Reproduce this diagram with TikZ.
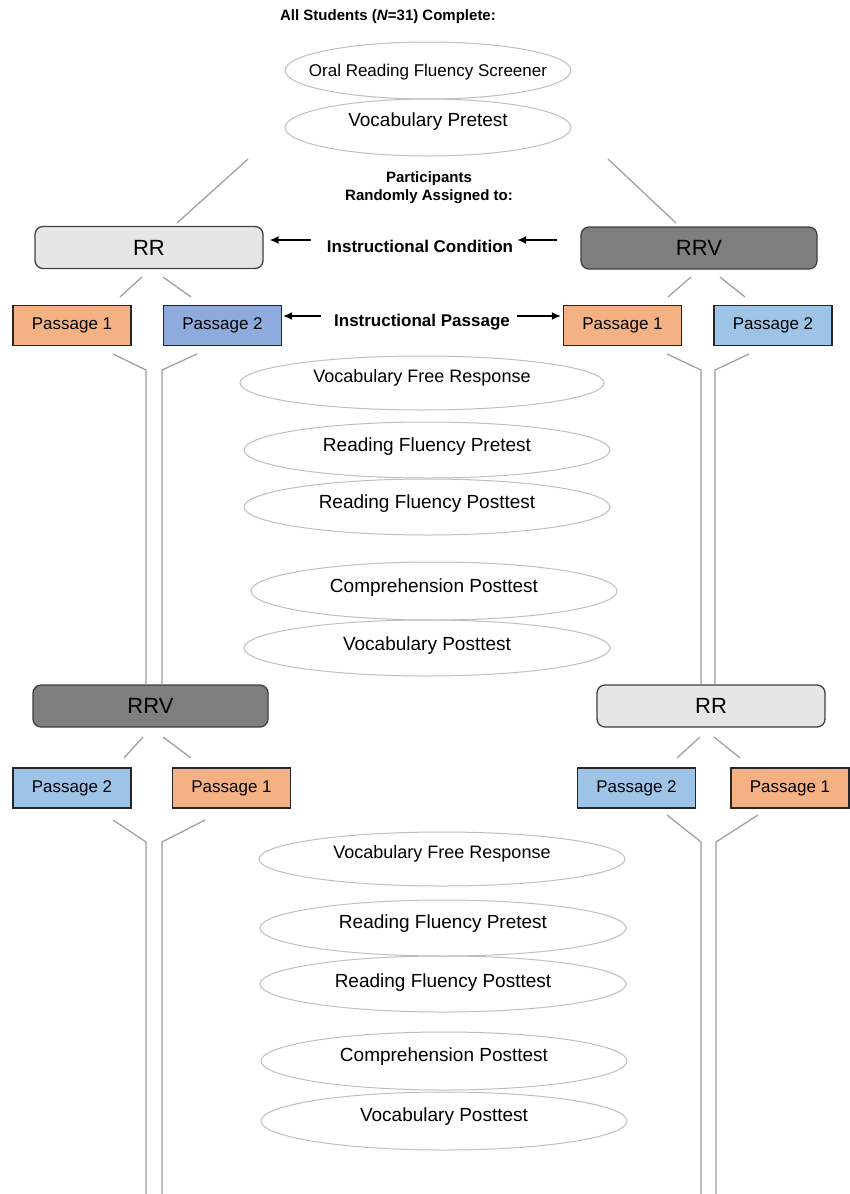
\documentclass[tikz,border=0pt]{standalone}
\usepackage{fontspec}
\setmainfont{Liberation Sans}
\usetikzlibrary{arrows.meta}

\definecolor{fig-color-p1}{RGB}{244, 177, 131}
\definecolor{fig-color-p2}{RGB}{143, 170, 220}
\definecolor{fig-color-p2-light}{RGB}{157, 195, 230}
\definecolor{fig-color-rr}{RGB}{231, 230, 230}
\definecolor{fig-color-rrv}{RGB}{127, 127, 127}
\definecolor{fig-color-line}{RGB}{155, 155, 155}
\definecolor{fig-color-oval}{RGB}{190, 190, 190}

\tikzset{
  condbox/.style={draw=black!75, line width=1.3pt, rounded corners=8pt,
    minimum width=228pt, minimum height=42pt, inner sep=0pt,
    font=\fontsize{22}{24}\selectfont},
  passbox/.style={draw=black!85, line width=1.2pt, minimum width=118pt,
    minimum height=40pt, inner sep=0pt, font=\fontsize{17}{19}\selectfont},
  oval/.style={draw=fig-color-oval, line width=1pt},
  ovaltext/.style={inner sep=0pt, font=\fontsize{19}{21}\selectfont},
  lbl/.style={inner sep=0pt, font=\bfseries\fontsize{17}{19}\selectfont},
  head/.style={inner sep=0pt, align=center, font=\bfseries\fontsize{15}{18}\selectfont},
  link/.style={draw=fig-color-line, line width=1.2pt},
  arr/.style={line width=1.6pt, -{Latex[length=9pt,width=8pt]}}
}

\begin{document}
\begin{tikzpicture}[x=1pt,y=-1pt]
    \useasboundingbox (0,0) rectangle (850,1194);

    \node[head] (all) at (388,17) {All Students (\textit{N}=31) Complete:};

    \draw[oval] (428,70.5) ellipse (143 and 28.5);
    \node[ovaltext, font=\fontsize{17}{19}\selectfont] (orf) at (428,72) {Oral Reading Fluency Screener};
    \draw[oval] (428,127.5) ellipse (143 and 28.5);
    \node[ovaltext] (vpre) at (428,122) {Vocabulary Pretest};

    \node[head] (assign) at (429,188) {Participants\\Randomly Assigned to:};

    \node[condbox, fill=fig-color-rr] (rr1) at (149,247.5) {RR};
    \node[condbox, fill=fig-color-rrv, minimum width=236pt] (rrv1) at (699,248) {RRV};

    \coordinate (t1) at (248,159);
    \coordinate (t2) at (177,223);
    \coordinate (t3) at (608,159);
    \coordinate (t4) at (676,223);
    \draw[link] (t1) -- (t2);
    \draw[link] (t3) -- (t4);

    \node[lbl] (icond) at (420,246) {Instructional Condition};
    \draw[arr, shorten <=16pt, shorten >=6pt] ([yshift=6pt]icond.west) -- ([yshift=7.5pt]rr1.east);
    \draw[arr, shorten <=23pt, shorten >=4pt] ([yshift=8pt]rrv1.west) -- ([yshift=6pt]icond.east);

    \node[passbox, fill=fig-color-p1] (p11) at (72,325.5) {Passage 1};
    \node[passbox, fill=fig-color-p2] (p12) at (222.5,325.5) {Passage 2};
    \node[passbox, fill=fig-color-p1] (p21) at (622.5,325.5) {Passage 1};
    \node[passbox, fill=fig-color-p2-light] (p22) at (773,325.5) {Passage 2};

    \node[lbl] (ipass) at (422,322) {Instructional Passage};
    \draw[arr, shorten <=13pt, shorten >=1pt] ([yshift=6pt]ipass.west) -- ([yshift=9.5pt]p12.east);
    \draw[arr, shorten <=7pt, shorten >=2pt] ([yshift=6pt]ipass.east) -- ([yshift=9.5pt]p21.west);

    \coordinate (r1) at (142,277);
    \coordinate (r2) at (120,297);
    \coordinate (r3) at (163,277);
    \coordinate (r4) at (191,297);
    \coordinate (r5) at (691,277);
    \coordinate (r6) at (668,297);
    \coordinate (r7) at (720,277);
    \coordinate (r8) at (745,297);
    \draw[link] (r1) -- (r2);
    \draw[link] (r3) -- (r4);
    \draw[link] (r5) -- (r6);
    \draw[link] (r7) -- (r8);

    \coordinate (s1) at (113,354);
    \coordinate (s2) at (146,370);
    \coordinate (s3) at (197,354);
    \coordinate (s4) at (162,370);
    \coordinate (s5) at (667,354);
    \coordinate (s6) at (701,370);
    \coordinate (s7) at (749,354);
    \coordinate (s8) at (715,370);

    \draw[oval] (422,383) ellipse (182 and 27);
    \node[ovaltext, font=\fontsize{18}{20}\selectfont] (vfr1) at (422,378) {Vocabulary Free Response};
    \draw[oval] (427,450) ellipse (183 and 28);
    \node[ovaltext] (rfpre1) at (427,447) {Reading Fluency Pretest};
    \draw[oval] (427,507) ellipse (183 and 28);
    \node[ovaltext] (rfpost1) at (427,504) {Reading Fluency Posttest};
    \draw[oval] (434,591) ellipse (183 and 29);
    \node[ovaltext] (comp1) at (434,588) {Comprehension Posttest};
    \draw[oval] (427,648) ellipse (183 and 28);
    \node[ovaltext] (vpost1) at (427,646) {Vocabulary Posttest};

    \node[condbox, fill=fig-color-rrv, minimum width=235pt] (rrv2) at (150.5,706) {RRV};
    \node[condbox, fill=fig-color-rr] (rr2) at (711,706) {RR};

    \draw[link] (s1) -- (s2) -- (s2 |- rrv2.north);
    \draw[link] (s3) -- (s4) -- (s4 |- rrv2.north);
    \draw[link] (s5) -- (s6) -- (s6 |- rr2.north);
    \draw[link] (s7) -- (s8) -- (s8 |- rr2.north);

    \coordinate (u1) at (143,737);
    \coordinate (u2) at (124,758);
    \coordinate (u3) at (163,737);
    \coordinate (u4) at (191,758);
    \coordinate (u5) at (700,737);
    \coordinate (u6) at (677,758);
    \coordinate (u7) at (714,737);
    \coordinate (u8) at (740,758);
    \draw[link] (u1) -- (u2);
    \draw[link] (u3) -- (u4);
    \draw[link] (u5) -- (u6);
    \draw[link] (u7) -- (u8);

    \node[passbox, fill=fig-color-p2-light] (q12) at (72,788) {Passage 2};
    \node[passbox, fill=fig-color-p1] (q11) at (231.5,788) {Passage 1};
    \node[passbox, fill=fig-color-p2-light] (q22) at (636.5,788) {Passage 2};
    \node[passbox, fill=fig-color-p1] (q21) at (790,788) {Passage 1};

    \coordinate (v1) at (113,820);
    \coordinate (v2) at (146,842);
    \coordinate (v3) at (205,820);
    \coordinate (v4) at (162,842);
    \coordinate (v5) at (667,815);
    \coordinate (v6) at (701,842);
    \coordinate (v7) at (758,815);
    \coordinate (v8) at (716,842);
    \coordinate (w) at (0,1194);
    \draw[link] (v1) -- (v2) -- (v2 |- w);
    \draw[link] (v3) -- (v4) -- (v4 |- w);
    \draw[link] (v5) -- (v6) -- (v6 |- w);
    \draw[link] (v7) -- (v8) -- (v8 |- w);

    \draw[oval] (442,859) ellipse (183 and 27);
    \node[ovaltext, font=\fontsize{18}{20}\selectfont] (vfr2) at (442,854) {Vocabulary Free Response};
    \draw[oval] (443,928) ellipse (183 and 28);
    \node[ovaltext] (rfpre2) at (443,924) {Reading Fluency Pretest};
    \draw[oval] (443,984) ellipse (183 and 28);
    \node[ovaltext] (rfpost2) at (443,983) {Reading Fluency Posttest};
    \draw[oval] (444,1061) ellipse (183 and 29);
    \node[ovaltext] (comp2) at (444,1057) {Comprehension Posttest};
    \draw[oval] (444,1121) ellipse (183 and 29);
    \node[ovaltext] (vpost2) at (444,1117) {Vocabulary Posttest};
  \end{tikzpicture}
\end{document}
